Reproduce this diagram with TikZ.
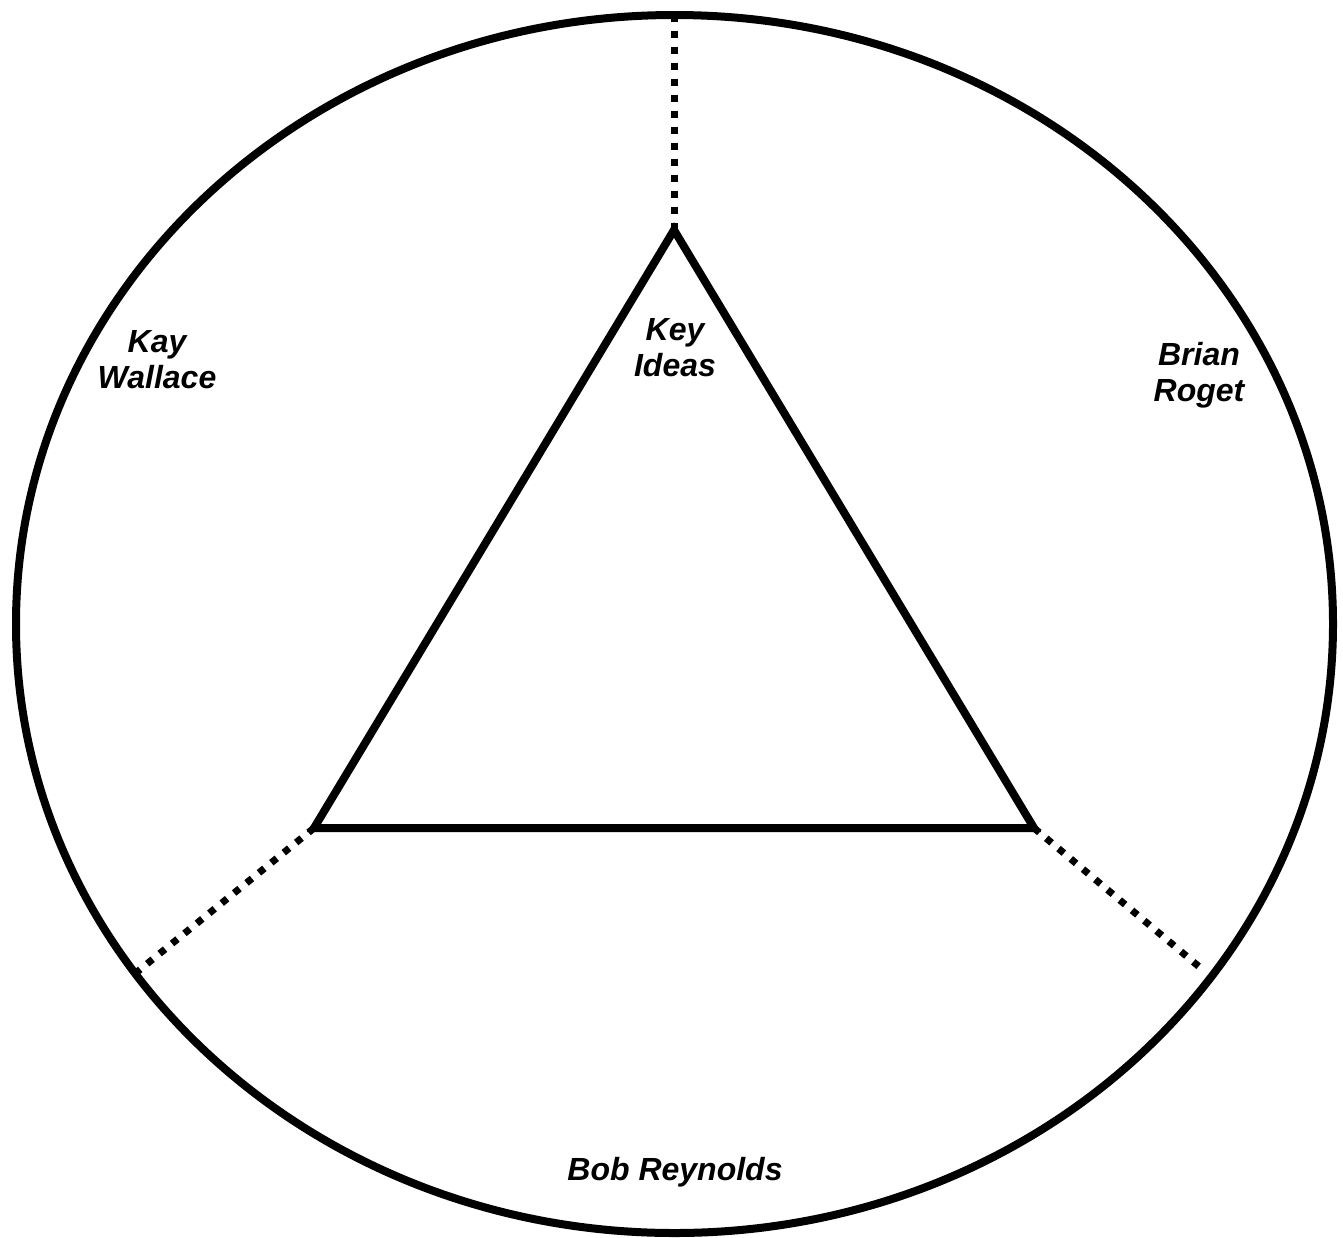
\documentclass[tikz,border=0pt]{standalone}
\usepackage{fontspec}
\setmainfont{Liberation Sans}
\usepackage{tikz}
\usetikzlibrary{positioning}

\begin{document}
\begin{tikzpicture}[x=0.5pt, y=-0.5pt,
  rim/.style={draw, line width=4pt},
  tri/.style={draw, line width=4pt, line join=miter},
  divider/.style={draw, line width=3.5pt, dash pattern=on 3.5pt off 4.5pt},
  lbl/.style={font=\bfseries\itshape\fontsize{16}{18}\selectfont, align=center, inner sep=0pt}
]
  \useasboundingbox (0,0) rectangle (1343,1237);

  % outer circle
  \draw[rim] (674.5,624) ellipse [x radius=658.5, y radius=609];

  % triangle corners and rim points
  \coordinate (top)   at (674,230);
  \coordinate (left)  at (314,828);
  \coordinate (right) at (1034,828);
  \coordinate (rimtop)   at (674,16);
  \coordinate (rimleft)  at (137,972);
  \coordinate (rimright) at (1203,970);

  \draw[tri] (top) -- (right) -- (left) -- cycle;

  % dividers
  \draw[divider] (top) -- (rimtop);
  \draw[divider] (left) -- (rimleft);
  \draw[divider] (right) -- (rimright);

  % labels
  \node[lbl] (ideas) at (675,348)  {Key\\Ideas};
  \node[lbl] (kay)   at (157,360)  {Kay\\Wallace};
  \node[lbl] (brian) at (1199,375) {Brian\\Roget};
  \node[lbl] (bob)   at (675,1172) {Bob Reynolds};

\end{tikzpicture}
\end{document}
